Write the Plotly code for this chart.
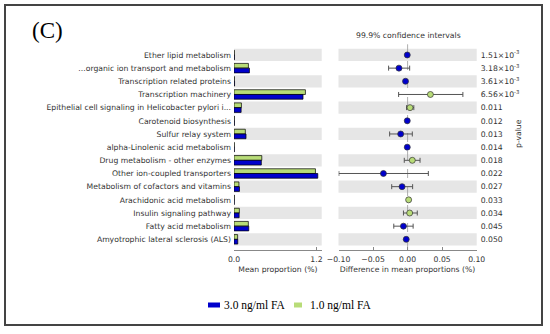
import plotly.graph_objects as go

categories = [
    "Ether lipid metabolism",
    "...organic ion transport and metabolism",
    "Transcription related proteins",
    "Transcription machinery",
    "Epithelial cell signaling in Helicobacter pylori i...",
    "Carotenoid biosynthesis",
    "Sulfur relay system",
    "alpha-Linolenic acid metabolism",
    "Drug metabolism - other enzymes",
    "Other ion-coupled transporters",
    "Metabolism of cofactors and vitamins",
    "Arachidonic acid metabolism",
    "Insulin signaling pathway",
    "Fatty acid metabolism",
    "Amyotrophic lateral sclerosis (ALS)",
]
mean_3ng = [0.006, 0.225, 0.008, 1.005, 0.104, 0.006, 0.175, 0.005, 0.398, 1.22,
            0.080, 0.004, 0.075, 0.215, 0.055]
mean_1ng = [0.004, 0.210, 0.005, 1.040, 0.108, 0.005, 0.165, 0.004, 0.405, 1.186,
            0.072, 0.005, 0.078, 0.209, 0.053]
diff = [-0.0005, -0.0125, -0.003, 0.033, 0.0035, -0.0005, -0.010, -0.0005, 0.0068, -0.035,
        -0.008, 0.0015, 0.003, -0.006, -0.002]
ci_low = [-0.0012, -0.0275, -0.0045, -0.013, -0.0015, -0.0012, -0.026, -0.0012, -0.0048, -0.0995,
          -0.023, 0.0005, -0.006, -0.020, -0.0038]
ci_high = [0.0002, 0.003, -0.0015, 0.080, 0.009, 0.0002, 0.0068, 0.0002, 0.018, 0.030,
           0.0073, 0.0025, 0.014, 0.008, -0.0002]
p_labels = ["1.51×10<sup>-3</sup>", "3.18×10<sup>-3</sup>", "3.61×10<sup>-3</sup>",
            "6.56×10<sup>-3</sup>", "0.011", "0.012", "0.013", "0.014", "0.018", "0.022",
            "0.027", "0.033", "0.034", "0.045", "0.050"]
group_names = ["3.0 ng/ml FA", "1.0 ng/ml FA"]
left_ticks = [0.0, 1.2]
left_ticktext = ["0.0", "1.2"]
right_ticks = [-0.10, -0.05, 0.0, 0.05, 0.10]

BLUE = "#0000CC"
GREEN = "#B8DC78"
TXT = "#333333"
FONT = "DejaVu Sans"
FS = 7.7
W, H = 550, 334

rows = list(range(len(categories)))

def px_x(p):
    return p / W

def px_y(p):
    return 1 - p / H

fig = go.Figure()

fig.add_trace(go.Bar(y=rows, x=mean_1ng, orientation="h", offset=-0.36, width=0.36,
                     name=group_names[1],
                     marker=dict(color=GREEN, line=dict(color="black", width=0.7)),
                     xaxis="x", yaxis="y", showlegend=False))
fig.add_trace(go.Bar(y=rows, x=mean_3ng, orientation="h", offset=0.0, width=0.36,
                     name=group_names[0],
                     marker=dict(color=BLUE, line=dict(color="black", width=0.7)),
                     xaxis="x", yaxis="y", showlegend=False))

dot_colors = [GREEN if d > 0 else BLUE for d in diff]
fig.add_trace(go.Scatter(
    x=diff, y=rows, mode="markers", xaxis="x2", yaxis="y2", showlegend=False,
    marker=dict(color=dot_colors, size=6, line=dict(color="#333333", width=0.7)),
    error_x=dict(type="data", symmetric=False,
                 array=[h - d for h, d in zip(ci_high, diff)],
                 arrayminus=[d - l for d, l in zip(diff, ci_low)],
                 color="#555555", thickness=1, width=2.5),
))

shapes = []
for i in rows:
    if i % 2 == 0:
        shapes.append(dict(type="rect", xref="x domain", yref="y", x0=0, x1=1,
                           y0=i - 0.465, y1=i + 0.465, fillcolor="#E6E6E6",
                           line=dict(width=0), layer="below"))
        shapes.append(dict(type="rect", xref="x2 domain", yref="y2", x0=0, x1=1,
                           y0=i - 0.465, y1=i + 0.465, fillcolor="#E6E6E6",
                           line=dict(width=0), layer="below"))
shapes.append(dict(type="line", xref="x2", yref="y2 domain", x0=0, x1=0, y0=0, y1=1,
                   line=dict(color="#999999", width=0.8, dash="dash"), layer="below"))
shapes.append(dict(type="rect", xref="paper", yref="paper",
                   x0=px_x(5), x1=px_x(542), y0=px_y(325), y1=px_y(5),
                   line=dict(color="#444444", width=2)))
# legend swatches
shapes.append(dict(type="rect", xref="paper", yref="paper",
                   x0=px_x(208), x1=px_x(220), y0=px_y(307.5), y1=px_y(302.5),
                   fillcolor=BLUE, line=dict(width=0)))
shapes.append(dict(type="rect", xref="paper", yref="paper",
                   x0=px_x(294), x1=px_x(302), y0=px_y(307.5), y1=px_y(302.5),
                   fillcolor=GREEN, line=dict(width=0)))

ydom = [px_y(250), px_y(44.3)]
yrange = [len(categories) - 1 + 0.81, -0.81]

def ann(text, x, y, size=FS, family=FONT, color=TXT, xanchor="center", angle=0):
    return dict(text=text, xref="paper", yref="paper", x=px_x(x), y=px_y(y),
                xanchor=xanchor, yanchor="middle", showarrow=False, textangle=angle,
                font=dict(family=family, size=size, color=color))

fig.update_layout(
    width=W, height=H, autosize=False,
    margin=dict(l=0, r=0, t=0, b=0),
    paper_bgcolor="white", plot_bgcolor="white",
    barmode="overlay",
    showlegend=False,
    shapes=shapes,
    font=dict(family=FONT, size=FS, color=TXT),
    xaxis=dict(domain=[px_x(234), px_x(321.7)], range=[0, 1.277], anchor="y",
               tickvals=left_ticks, ticktext=left_ticktext, ticks="inside", ticklen=3,
               tickcolor="#888888", showline=True, linecolor="#888888", linewidth=1,
               showgrid=False, zeroline=False, automargin=False, ticklabelstandoff=2,
               tickfont=dict(family=FONT, size=FS, color=TXT),
               title=dict(text="Mean proportion (%)", font=dict(family=FONT, size=FS, color=TXT),
                          standoff=3)),
    yaxis=dict(domain=ydom, range=yrange, anchor="x", tickvals=rows, ticktext=categories,
               ticks="", showline=False, showgrid=False, zeroline=False, automargin=False,
               ticklabelstandoff=2,
               tickfont=dict(family=FONT, size=FS, color=TXT)),
    xaxis2=dict(domain=[px_x(338.5), px_x(476.7)], range=[-0.1, 0.1], anchor="y2",
                tickvals=right_ticks, tickformat=".2f", ticks="inside", ticklen=3,
                tickcolor="#888888", showline=True, linecolor="#888888", linewidth=1,
                showgrid=False, zeroline=False, automargin=False, ticklabelstandoff=2,
                tickfont=dict(family=FONT, size=FS, color=TXT),
                title=dict(text="Difference in mean proportions (%)",
                           font=dict(family=FONT, size=FS, color=TXT), standoff=3)),
    yaxis2=dict(domain=ydom, range=yrange, anchor="x2", side="right", tickvals=rows,
                ticktext=p_labels, ticks="", showline=False, showgrid=False, zeroline=False,
                automargin=False, ticklabelstandoff=3,
                tickfont=dict(family=FONT, size=FS, color=TXT)),
    annotations=[
        ann("99.9% confidence intervals", 408, 35),
        ann("p-value", 519, 134, angle=-90),
        ann("(C)", 47, 30, size=23, family="Liberation Serif", color="black"),
        ann(group_names[0], 221.5, 305, size=11.5, family="Liberation Serif", color="black",
            xanchor="left"),
        ann(group_names[1], 308, 305, size=11.5, family="Liberation Serif", color="black",
            xanchor="left"),
    ],
)

fig.write_html("out.html", config=dict(displayModeBar=False),
               post_script="document.body.style.margin='0px';")
